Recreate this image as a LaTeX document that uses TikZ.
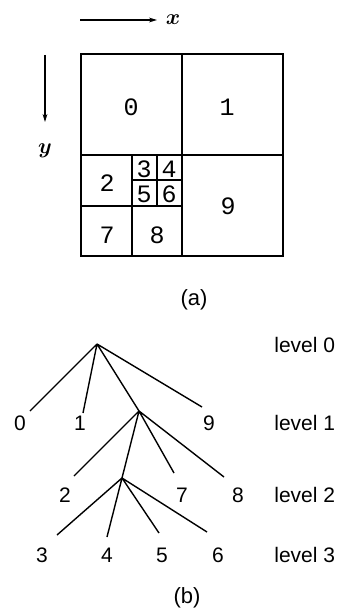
\documentclass[tikz,border=0pt]{standalone}
\usepackage{fontspec}
\usepackage{amsmath,bm}
\usetikzlibrary{arrows.meta}
\newfontfamily\cellfont{Liberation Mono}
\newfontfamily\treefont{Liberation Sans}
\tikzset{cell/.style={font=\cellfont\fontsize{12.5}{14}\selectfont,inner sep=0pt},
 leaf/.style={font=\treefont\fontsize{10.5}{12}\selectfont,inner sep=0pt},
 lvl/.style={leaf,anchor=west},capt/.style={leaf,font=\treefont\fontsize{11}{13}\selectfont},
 grid/.style={line width=1pt},edge/.style={line width=.7pt},
 axis/.style={-{Stealth[length=4pt,width=2.4pt]},line width=.6pt},
 axlab/.style={font=\fontsize{11}{13}\selectfont,inner sep=0pt}}

\begin{document}
\begin{tikzpicture}[x=.5pt,y=-.5pt]
\useasboundingbox (0,0) rectangle (341,614);
% (a) the cells
\coordinate (xs) at (80,20);\coordinate (xe) at (157,20);\node[axlab] (xl) at (173,20) {$\bm{x}$};
\coordinate (ys) at (45,55);\coordinate (ye) at (45,122);\node[axlab] (yl) at (45,151) {$\bm{y}$};
\draw[axis] (xs)--(xe);\draw[axis] (ys)--(ye);
\draw[grid] (81,54) rectangle (283,256);
\draw[grid] (182,54)--(182,256) (81,155)--(283,155);
\draw[grid] (132,155)--(132,256) (81,206)--(182,206);
\draw[grid] (157,155)--(157,206) (132,180)--(182,180);
\node[cell] (c0) at (131,107) {0};\node[cell] (c1) at (227,107) {1};
\node[cell] (c2) at (107,183) {2};\node[cell] (c3) at (144,169) {3};\node[cell] (c4) at (169,169) {4};
\node[cell] (c5) at (144,194) {5};\node[cell] (c6) at (169,194) {6};
\node[cell] (c7) at (107,235) {7};\node[cell] (c8) at (157,235) {8};\node[cell] (c9) at (228,206) {9};
\node[capt] (capa) at (194,300) {(a)};
% (b) the tree
\coordinate (r) at (97,344);\coordinate (n1) at (139,411);\coordinate (n2) at (122,478);
\coordinate (e0) at (30,411);\coordinate (e1) at (83,413);\coordinate (e9) at (202,407);
\coordinate (e2) at (74,476);\coordinate (e7) at (174,473);\coordinate (e8) at (224,477);
\coordinate (e3) at (57,535);\coordinate (e4) at (107,537);\coordinate (e5) at (159,533);\coordinate (e6) at (207,532);
\draw[edge] (r)--(e0) (r)--(e1) (r)--(n1) (r)--(e9);
\draw[edge] (n1)--(e2) (n1)--(n2) (n1)--(e7) (n1)--(e8);
\draw[edge] (n2)--(e3) (n2)--(e4) (n2)--(e5) (n2)--(e6);
\node[leaf] (t0) at (20,423) {0};\node[leaf] (t1) at (80,423) {1};\node[leaf] (t9) at (209,423) {9};
\node[leaf] (t2) at (65,495) {2};\node[leaf] (t7) at (182,495) {7};\node[leaf] (t8) at (238,495) {8};
\node[leaf] (t3) at (42,555) {3};\node[leaf] (t4) at (107,555) {4};\node[leaf] (t5) at (162,555) {5};\node[leaf] (t6) at (218,555) {6};
\node[lvl] (v0) at (274,345) {level 0};\node[lvl] (v1) at (274,423) {level 1};
\node[lvl] (v2) at (274,495) {level 2};\node[lvl] (v3) at (274,555) {level 3};
\node[capt] (capb) at (187,598) {(b)};
\end{tikzpicture}
\end{document}
